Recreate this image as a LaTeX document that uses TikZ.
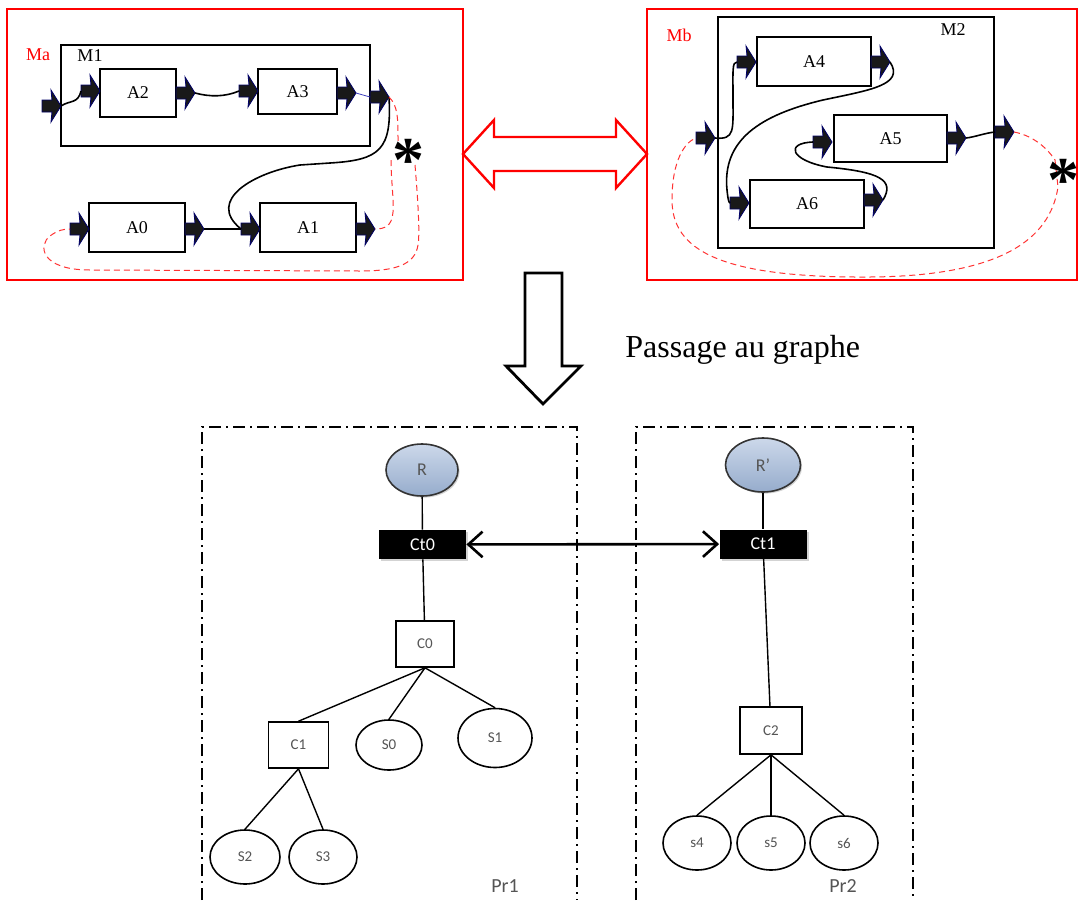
\documentclass[tikz,border=0pt]{standalone}
\usepackage{fontspec}
\setmainfont{Liberation Serif}
\setsansfont{Carlito}
\usetikzlibrary{arrows.meta,shapes.geometric,shadows,positioning}
\definecolor{rtop}{RGB}{204,216,234}
\definecolor{rbot}{RGB}{150,172,204}
\definecolor{lbl}{RGB}{85,85,85}
\tikzset{
  abox/.style={draw=black,line width=0.9pt,fill=white,minimum height=24pt,inner sep=0pt,font=\fontsize{9}{10}\selectfont},
  mbox/.style={draw=black,line width=0.9pt},
  frame/.style={draw=red,line width=0.9pt},
  flow/.style={black,line width=0.8pt},
  link/.style={red!80,dash pattern=on 3pt off 2pt,line width=0.5pt},
  mlabel/.style={font=\fontsize{9}{10}\selectfont,inner sep=0pt},
  star/.style={font=\fontsize{32}{32}\selectfont\bfseries,inner sep=0pt},
  port/.pic={
    \fill[black!90,draw=blue!40!black,line width=0.4pt] (0,-6) -- (10,-6) -- (9,-16) -- (19,0) -- (9,16) -- (10,6) -- (0,6) -- cycle;
    \coordinate (-in) at (0,0);
    \coordinate (-out) at (19,0);
  },
  root/.style={ellipse,draw=black!80,line width=0.8pt,top color=rtop,bottom color=rbot,minimum width=36pt,minimum height=26pt,inner sep=0pt,font=\sffamily\fontsize{9}{10}\selectfont,text=lbl,drop shadow={shadow xshift=0.8pt,shadow yshift=-0.8pt,opacity=0.35}},
  ctl/.style={fill=black,text=white,minimum width=43.5pt,minimum height=14.5pt,inner sep=0pt,font=\sffamily\fontsize{9}{10}\selectfont,drop shadow={shadow xshift=1pt,shadow yshift=-1pt,opacity=0.35}},
  cbox/.style={draw=black,line width=0.8pt,fill=white,minimum width=30pt,minimum height=23pt,inner sep=0pt,font=\sffamily\fontsize{7.5}{8}\selectfont,text=lbl},
  sleaf/.style={ellipse,draw=black,line width=0.8pt,fill=white,minimum width=34pt,minimum height=27pt,inner sep=0pt,font=\sffamily\fontsize{7.5}{8}\selectfont,text=lbl},
  tie/.style={draw=black,line width=0.7pt},
  zone/.style={line width=1pt,dash pattern=on 6pt off 2.5pt on 1pt off 2.5pt},
  bigarrow/.style={draw=black,line width=1.4pt,fill=white},
}

\begin{document}
\begin{tikzpicture}[x=0.5pt,y=-0.5pt]
  \useasboundingbox (0,0) rectangle (1080,900);

  % ---- left model Ma
  \draw[frame] (7,9) rectangle (463,280);
  \draw[mbox] (61,45) rectangle (370,146);
  \node[mlabel,text=red] (Ma) at (38,55) {Ma};
  \node[mlabel] (M1) at (90,56) {M1};
  \node[abox,minimum width=38pt] (A2) at (138,93) {A2};
  \node[abox,minimum width=39.5pt,minimum height=22.5pt] (A3) at (297.5,91.5) {A3};
  \node[abox,minimum width=48pt,minimum height=24.5pt] (A0) at (137,227.5) {A0};
  \node[abox,minimum width=48pt,minimum height=24.5pt] (A1) at (308,227.5) {A1};
  \pic (pM1i) at (42,106) {port};
  \pic (pA2i) at (81,91) {port};
  \pic (pA2o) at (176,93) {port};
  \pic (pA3i) at (239,91) {port};
  \pic (pA3o) at (337,93) {port};
  \pic (pM1o) at (370,97) {port};
  \pic (pA0i) at (70,229) {port};
  \pic (pA0o) at (185,229) {port};
  \pic (pA1i) at (241,229) {port};
  \pic (pA1o) at (356,229) {port};
  \draw[flow] (pM1i-out) .. controls (70,100) and (78,104) .. (pA2i-in);
  \draw[flow] (pA2o-out) .. controls (210,97) and (225,97) .. (pA3i-in);
  \draw[blue!50!gray,line width=0.4pt] (pA3o-out) -- (pM1o-in);
  \draw[flow] (pM1o-out) .. controls (392,150) and (380,160) .. (330,163)
    -- (300,165) .. controls (255,172) and (205,200) .. (pA1i-in);
  \draw[flow] (pA0o-out) -- (pA1i-in);
  \coordinate (st1a) at (398,142);
  \coordinate (st1b) at (391,160);
  \coordinate (st1c) at (415,165);
  \draw[link] (pM1o-out) .. controls (398,106) and (398,118) .. (st1a);
  \draw[link] (st1b) .. controls (391,180) and (394,200) .. (393,212)
    .. controls (392,226) and (385,229) .. (pA1o-out);
  \draw[link] (st1c) .. controls (418,200) and (420,235) .. (418,245)
    .. controls (415,265) and (395,271) .. (360,271) -- (90,270)
    .. controls (40,270) and (38,245) .. (50,236)
    .. controls (58,230) and (64,229) .. (pA0i-in);
  \node[star] (st1) at (408,160) {*};

  % ---- exchange arrow
  \draw[draw=red,line width=1.2pt,fill=white] (463,154) -- (494,120) -- (494,137) -- (616,137)
    -- (616,120) -- (647,154) -- (616,188) -- (616,171) -- (494,171) -- (494,188) -- cycle;

  % ---- right model Mb
  \draw[frame] (647,9) rectangle (1077,280);
  \draw[mbox] (718,17) rectangle (994,248);
  \node[mlabel,text=red] (Mb) at (679,35) {Mb};
  \node[mlabel] (M2) at (953,30) {M2};
  \node[abox,minimum width=57pt,minimum height=24.5pt] (A4) at (814,61.5) {A4};
  \node[abox,minimum width=56.5pt,minimum height=23.5pt] (A5) at (890.5,138.5) {A5};
  \node[abox,minimum width=57pt] (A6) at (807,204) {A6};
  \pic (pM2i) at (696,138) {port};
  \pic (pA4i) at (737,62) {port};
  \pic (pA4o) at (871,62) {port};
  \pic (pA5i) at (813,142) {port};
  \pic (pA5o) at (947,138) {port};
  \pic (pM2o) at (995,132) {port};
  \pic (pA6i) at (730,203) {port};
  \pic (pA6o) at (864,200) {port};
  \draw[flow] (pM2i-out) .. controls (735,140) and (733,130) .. (733,100)
    .. controls (733,70) and (732,62) .. (pA4i-in);
  \draw[flow] (pA4o-out) .. controls (905,85) and (870,90) .. (823,100)
    .. controls (760,115) and (722,140) .. (727,190)
    .. controls (728,200) and (729,203) .. (pA6i-in);
  \draw[flow] (pA6o-out) .. controls (895,180) and (880,172) .. (827,167)
    .. controls (790,160) and (785,143) .. (pA5i-in);
  \draw[flow] (pA5o-out) .. controls (975,137) and (985,133) .. (pM2o-in);
  \coordinate (st2a) at (1055,160);
  \coordinate (st2b) at (1058,187);
  \draw[link] (pM2o-out) .. controls (1030,135) and (1045,145) .. (st2a)
    -- (st2b) .. controls (1050,240) and (1000,276) .. (870,277)
    .. controls (720,278) and (672,250) .. (672,200)
    .. controls (672,160) and (685,142) .. (pM2i-in);
  \node[star] (st2) at (1063,180) {*};

  % ---- transformation
  \draw[bigarrow] (525,273) -- (562,273) -- (562,366) -- (581,366) -- (543,404)
    -- (506,366) -- (525,366) -- cycle;
  \node[font=\fontsize{16}{18}\selectfont,anchor=base west,inner sep=0pt] (pass) at (625,357) {Passage au graphe};

  % ---- graph
  \draw[zone] (202,900) -- (202,427) -- (577,427) -- (577,900);
  \draw[zone] (636,900) -- (636,427) -- (913,427) -- (913,900);
  \node[root] (R) at (422,470) {R};
  \node[root,minimum width=37.5pt,minimum height=27pt] (Rp) at (763,465) {R'};
  \node[ctl] (Ct0) at (422.5,544.5) {Ct0};
  \node[ctl] (Ct1) at (763,544) {Ct1};
  \node[cbox,minimum width=29pt] (C0) at (425,644) {C0};
  \node[cbox] (C1) at (298.5,745) {C1};
  \node[cbox,minimum width=31pt,minimum height=23.5pt] (C2) at (771,730.5) {C2};
  \node[sleaf,minimum width=33pt,minimum height=25pt] (S0) at (389,745) {S0};
  \node[sleaf,minimum width=37pt,minimum height=29.5pt] (S1) at (495,738) {S1};
  \node[sleaf,minimum width=35pt] (S2) at (245,857) {S2};
  \node[sleaf] (S3) at (323,857) {S3};
  \node[sleaf] (s4) at (697,843) {s4};
  \node[sleaf] (s5) at (771,843) {s5};
  \node[sleaf] (s6) at (844,843) {s6};
  \node[font=\sffamily\fontsize{10}{12}\selectfont,text=lbl] (Pr1) at (505,886) {Pr1};
  \node[font=\sffamily\fontsize{10}{12}\selectfont,text=lbl] (Pr2) at (843,886) {Pr2};
  \draw[tie] (R) -- (Ct0);
  \draw[tie] (Ct0) -- (C0);
  \draw[tie] (C0.south) -- (C1.north);
  \draw[tie] (C0.south) -- (S0.north);
  \draw[tie] (C0.south) -- (S1.north);
  \draw[tie] (C1.south) -- (S2.north);
  \draw[tie] (C1.south) -- (S3.north);
  \draw[tie] (Rp) -- (Ct1);
  \draw[tie] (Ct1) -- (C2);
  \draw[tie] (C2.south) -- (s4.north);
  \draw[tie] (C2.south) -- (s5.north);
  \draw[tie] (C2.south) -- (s6.north);
  \draw[line width=1.3pt,{Straight Barb[length=2.5mm,width=4.5mm]}-{Straight Barb[length=2.5mm,width=4.5mm]}] (Ct0) -- (Ct1);
\end{tikzpicture}
\end{document}
